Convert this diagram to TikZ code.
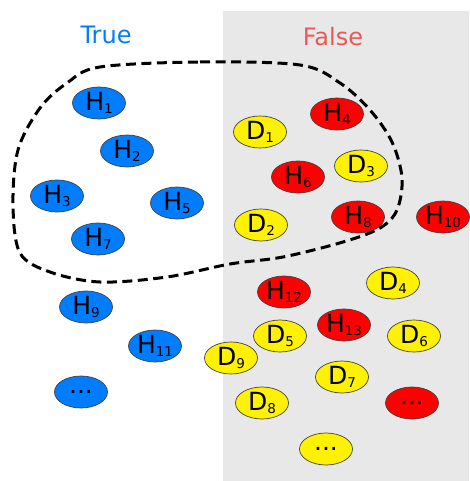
\documentclass[tikz,border=0pt]{standalone}
\usepackage{fontspec}
\setmainfont{DejaVu Sans}
\usetikzlibrary{shapes.geometric}
\definecolor{tblue}{RGB}{0,125,255}
\definecolor{fred}{RGB}{232,90,90}
\definecolor{panel}{RGB}{232,232,232}
\newcommand{\idx}[1]{\raisebox{-3.5pt}{\fontsize{13.5}{13.5}\selectfont #1}}
\tikzset{
  token/.style={ellipse, draw=black!75, line width=0.7pt, minimum width=53pt,
    minimum height=32pt, inner sep=0pt, font=\fontsize{25}{25}\selectfont},
  hyp/.style={token, fill=tblue},
  bad/.style={token, fill=red},
  doc/.style={token, fill=yellow},
  heading/.style={font=\fontsize{24}{24}\selectfont},
  region/.style={line width=3pt, dash pattern=on 10pt off 5.5pt}
}
\begin{document}
\begin{tikzpicture}[x=1pt,y=-1pt]
\useasboundingbox (0,0) rectangle (469,481);
\fill[panel] (223,11) rectangle (469,481);

\node[heading, text=tblue] (true) at (106,35) {True};
\node[heading, text=fred] (false) at (333,37) {False};

% true hypotheses
\node[hyp] (h1) at (99,103) {H\idx{1}};
\node[hyp] (h2) at (127,151) {H\idx{2}};
\node[hyp] (h3) at (57,196) {H\idx{3}};
\node[hyp] (h5) at (177,203) {H\idx{5}};
\node[hyp] (h7) at (98,239) {H\idx{7}};
\node[hyp] (h9) at (86,307) {H\idx{9}};
\node[hyp] (h11) at (155,346) {H\idx{11}};
\node[hyp] (hmore) at (81,392) {...};

% false hypotheses
\node[bad] (h4) at (337,114) {H\idx{4}};
\node[bad] (h6) at (298,177) {H\idx{6}};
\node[bad] (h8) at (358,217) {H\idx{8}};
\node[bad] (h10) at (443,217) {H\idx{10}};
\node[bad] (h12) at (284,292) {H\idx{12}};
\node[bad] (h13) at (344,325) {H\idx{13}};
\node[bad] (fmore) at (412,403) {...};

% distractors
\node[doc] (d1) at (260,132) {D\idx{1}};
\node[doc] (d2) at (261,225) {D\idx{2}};
\node[doc] (d3) at (361,166) {D\idx{3}};
\node[doc] (d4) at (393,283) {D\idx{4}};
\node[doc] (d5) at (280,336) {D\idx{5}};
\node[doc] (d6) at (414,336) {D\idx{6}};
\node[doc] (d7) at (342,377) {D\idx{7}};
\node[doc] (d8) at (262,403) {D\idx{8}};
\node[doc] (d9) at (231,358) {D\idx{9}};
\node[doc] (dmore) at (326,449) {...};

% selected region
\draw[region] plot[smooth cycle, tension=0.55] coordinates {
  (100,67) (200,62) (300,65) (340,83) (370,110) (392,142) (402,178)
  (397,210) (380,228) (343,242) (283,257) (230,264) (167,277)
  (100,282) (50,272) (20,253) (13,205) (18,150) (40,108) (67,83)};
\end{tikzpicture}
\end{document}
